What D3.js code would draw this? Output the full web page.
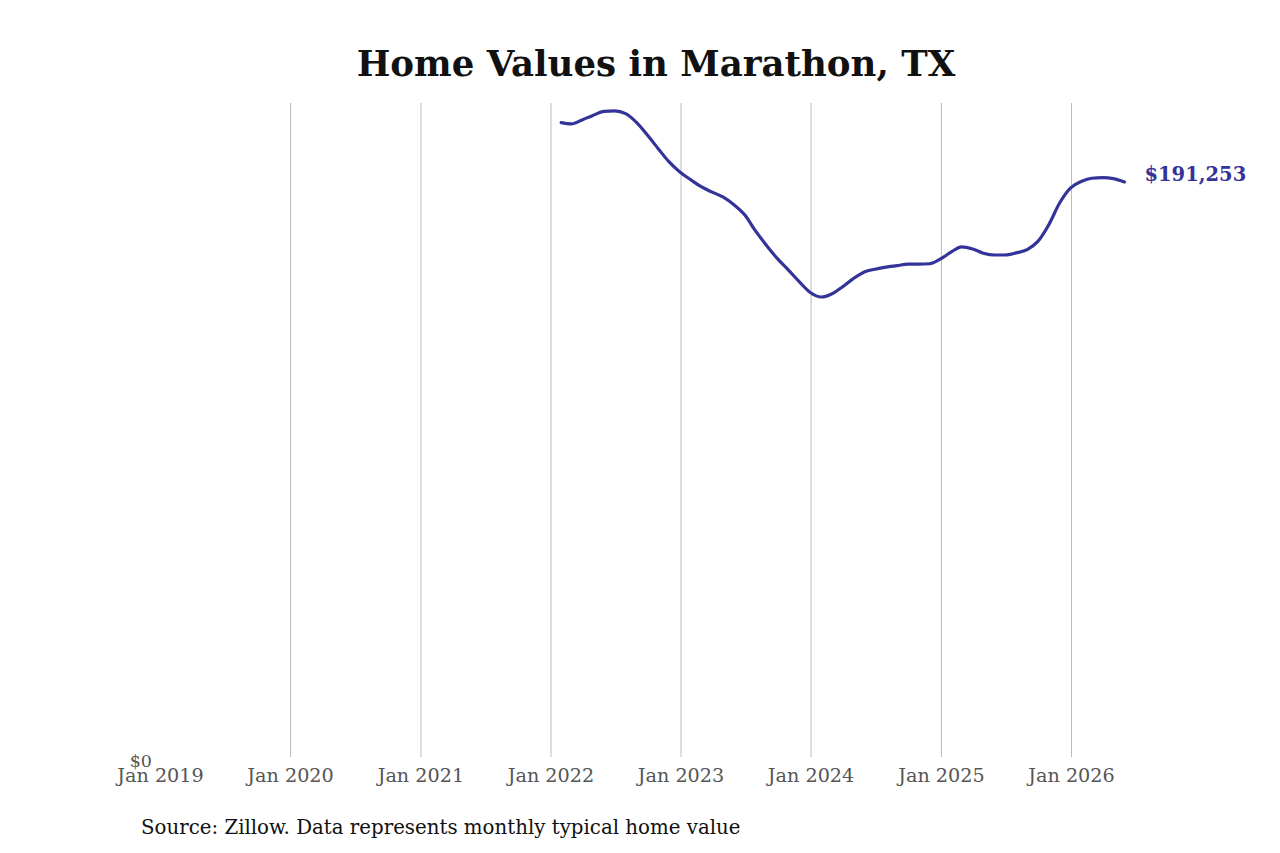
<!DOCTYPE html>
<html lang="en">
<head>
<meta charset="UTF-8">
<title>Home Values in Marathon, TX</title>
<script src="https://d3js.org/d3.v7.min.js"></script>
<style>
  body { margin: 0; background: #fff; }
  text { font-family: "DejaVu Serif", serif; }
</style>
</head>
<body>
<svg id="chart" width="1280" height="853"></svg>
<script>
// monthly typical home value, Jan 2022 .. May 2026 (month-end)
const startMonth = "2022-01-31";
const values = [
  210900, 210500, 211800, 213300, 214600, 214800, 213900, 210900, 206800, 202200,
  197900, 194500, 191900, 189700, 187900, 186300, 183700, 180400, 175000, 170200,
  165900, 162100, 158300, 154700, 153200, 154200, 156600, 159300, 161500, 162400,
  163100, 163600, 164100, 164100, 164200, 165800, 168200, 169800, 169100, 167700,
  167100, 167100, 167800, 168900, 171600, 177200, 184300, 189300, 191500, 192500,
  192700, 192400, 191253
];
const tickYears = [2019, 2020, 2021, 2022, 2023, 2024, 2025, 2026];
const title = "Home Values in Marathon, TX";
const source = "Source: Zillow. Data represents monthly typical home value";

const parse = d3.timeParse("%Y-%m-%d");
const start = parse(startMonth);
const data = values.map((v, i) => {
  const d = d3.timeMonth.offset(d3.timeMonth.floor(start), i + 1);
  return { date: d3.timeDay.offset(d, -1), value: v };
});

const svg = d3.select("#chart");
const plotTop = 103, plotBottom = 760;

const x = d3.scaleTime()
  .domain([new Date(2019, 0, 1), new Date(2026, 0, 1)])
  .range([160, 1071]);
const y = d3.scaleLinear()
  .domain([0, 217400])
  .range([plotBottom, plotTop]);

// title
svg.append("text")
  .attr("x", 656).attr("y", 76)
  .attr("text-anchor", "middle")
  .attr("font-size", 35.6).attr("font-weight", "bold")
  .attr("fill", "#111")
  .text(title);

// vertical grid + x labels
const xAxis = d3.axisBottom(x)
  .tickValues(tickYears.map(yr => new Date(yr, 0, 1)))
  .tickFormat(d3.timeFormat("Jan %Y"))
  .tickSize(-(plotBottom - 3 - plotTop))
  .tickPadding(11);
const gx = svg.append("g")
  .attr("transform", `translate(0,${plotBottom - 3})`)
  .call(xAxis);
gx.select(".domain").remove();
gx.selectAll(".tick line").attr("stroke", "#bbb").attr("stroke-width", 1);
gx.selectAll(".tick").filter((d, i) => i === 0).select("line").remove();
gx.selectAll(".tick text")
  .attr("font-family", "DejaVu Serif, serif")
  .attr("font-size", 19.2).attr("fill", "#555");

// y label $0
const yAxis = d3.axisLeft(y).tickValues([0]).tickFormat(d3.format("$,")).tickSize(0).tickPadding(0);
const gy = svg.append("g").attr("transform", "translate(152,1)").call(yAxis);
gy.select(".domain").remove();
gy.selectAll(".tick text")
  .attr("font-family", "DejaVu Serif, serif")
  .attr("font-size", 17.5).attr("fill", "#555");

// line
const line = d3.line()
  .x(d => x(d.date))
  .y(d => y(d.value))
  .curve(d3.curveMonotoneX);
svg.append("path")
  .datum(data)
  .attr("fill", "none")
  .attr("stroke", "#343399")
  .attr("stroke-width", 3.2)
  .attr("stroke-linejoin", "round")
  .attr("stroke-linecap", "round")
  .attr("d", line);

// last value label
const last = data[data.length - 1];
svg.append("text")
  .attr("x", x(last.date) + 20)
  .attr("y", y(last.value) - 1)
  .attr("font-size", 19.5).attr("font-weight", "bold")
  .attr("fill", "#343399")
  .text(d3.format("$,")(last.value));

// source
svg.append("text")
  .attr("x", 141).attr("y", 834)
  .attr("font-size", 19.8).attr("fill", "#111")
  .text(source);
</script>
</body>
</html>
